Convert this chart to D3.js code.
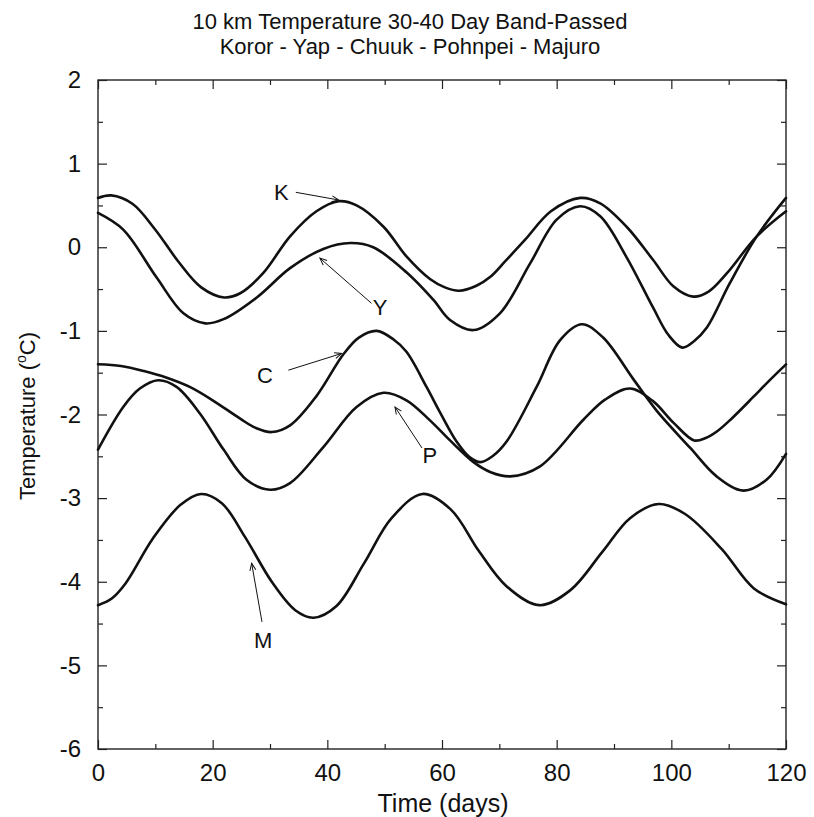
<!DOCTYPE html>
<html><head><meta charset="utf-8">
<script src="https://cdn.jsdelivr.net/npm/d3@7"></script>
<style>
body{margin:0;background:#fff}
text{font-family:"Liberation Sans",Arial,Helvetica,sans-serif;fill:#111}
</style>
</head><body>
<svg id="chart" width="814" height="817"></svg>
<script>
// ---- data ----
const titleLines = ["10 km Temperature 30-40 Day Band-Passed", "Koror - Yap - Chuuk - Pohnpei - Majuro"];
const xLabel = "Time (days)";
const xTicks = [0, 20, 40, 60, 80, 100, 120];
const yTicks = [2, 1, 0, -1, -2, -3, -4, -5, -6];

const kororDays = [0, 2.3, 6, 10, 14, 18, 22, 24.8, 28.8, 33.5, 38.1, 42, 45.1, 49.8, 53.8, 57.9, 60.5, 63, 66, 68.5, 71, 74.5, 79, 84.1, 87.6, 92.2, 96.8, 100.4, 103.8, 106.5, 109.7, 114.9, 120];
const kororTemp = [0.59, 0.62, 0.52, 0.21, -0.17, -0.48, -0.60, -0.55, -0.31, 0.13, 0.43, 0.55, 0.50, 0.245, -0.11, -0.38, -0.48, -0.52, -0.46, -0.35, -0.17, 0.09, 0.43, 0.59, 0.525, 0.245, -0.15, -0.47, -0.59, -0.53, -0.31, 0.13, 0.43];

const yapDays = [0, 4.4, 10.2, 14.9, 18.7, 21.9, 27.7, 33.5, 39.3, 44.0, 48.0, 53.8, 58.5, 61.4, 65.5, 70.1, 75.4, 80.0, 84.1, 87.6, 92.2, 96.8, 99.5, 101.9, 104, 106.2, 110.2, 114.9, 120];
const yapTemp = [0.41, 0.21, -0.36, -0.79, -0.91, -0.86, -0.60, -0.25, -0.02, 0.05, 0.00, -0.30, -0.63, -0.87, -0.99, -0.79, -0.19, 0.33, 0.49, 0.37, -0.12, -0.72, -1.05, -1.20, -1.12, -0.96, -0.43, 0.13, 0.59];

const chuukDays = [0, 4, 8, 12, 16, 20, 24.8, 27.5, 30.3, 33.5, 38.1, 42.8, 45.5, 48.6, 51.5, 53.8, 57.3, 59.7, 62.6, 64.8, 66.7, 68.8, 71.3, 76.5, 80.6, 84.4, 88.1, 93.4, 97.5, 103.3, 107.9, 112.6, 116.6, 120];
const chuukTemp = [-1.40, -1.42, -1.48, -1.56, -1.67, -1.83, -2.05, -2.16, -2.21, -2.13, -1.78, -1.28, -1.08, -1.00, -1.10, -1.25, -1.67, -1.98, -2.33, -2.51, -2.57, -2.50, -2.32, -1.67, -1.11, -0.92, -1.08, -1.58, -1.96, -2.40, -2.74, -2.91, -2.78, -2.47];

const pohnpeiDays = [0, 4.4, 7.3, 10.5, 13.7, 17.8, 21.9, 25.9, 30.0, 33.5, 39.3, 45.1, 49.8, 53.8, 57.9, 61.4, 65.5, 68.5, 71.9, 77.1, 84.7, 88.5, 92.8, 96.8, 100.4, 104, 106, 108, 110.5, 114.3, 117, 120];
const pohnpeiTemp = [-2.42, -1.91, -1.69, -1.59, -1.67, -1.99, -2.42, -2.78, -2.90, -2.82, -2.39, -1.91, -1.74, -1.83, -2.07, -2.31, -2.57, -2.69, -2.74, -2.62, -2.06, -1.82, -1.69, -1.84, -2.10, -2.31, -2.28, -2.20, -2.05, -1.79, -1.60, -1.40];

const majuroDays = [0, 2.4, 4.8, 9.6, 14.4, 18, 21.6, 25.6, 30.4, 34.4, 37.6, 41.6, 46.4, 51.2, 56.6, 61.6, 66.4, 71.2, 77, 82.4, 88, 92.8, 97.8, 102.4, 108.8, 114.4, 120];
const majuroTemp = [-4.28, -4.20, -4.02, -3.48, -3.08, -2.95, -3.06, -3.46, -4.01, -4.34, -4.43, -4.29, -3.78, -3.24, -2.95, -3.14, -3.63, -4.05, -4.28, -4.10, -3.64, -3.24, -3.07, -3.19, -3.61, -4.08, -4.27];

// annotation labels: letter, label anchor (day, temp), arrow from (day,temp) to (day,temp)
const labelNames = ["K", "Y", "C", "P", "M"];
const labelAt = [[32.0, 0.657], [49.2, -0.71], [29.1, -1.53], [57.9, -2.48], [28.8, -4.70]];
const arrowFrom = [[34.5, 0.657], [47.7, -0.67], [33.2, -1.47], [56.5, -2.40], [28.6, -4.48]];
const arrowTo = [[42.0, 0.565], [38.7, -0.13], [42.5, -1.27], [51.8, -1.91], [26.8, -3.78]];

// ---- layout ----
const plot = {left: 98, right: 786, top: 80, bottom: 749};
const svg = d3.select("#chart");
const tickFs = 24;

const x = d3.scaleLinear().domain([0, 120]).range([plot.left, plot.right]);
const y = d3.scaleLinear().domain([-6, 2]).range([plot.bottom, plot.top]);

// title
svg.append("g").selectAll("text").data(titleLines).join("text")
  .attr("x", 410).attr("y", (d, i) => 29 + i * 25)
  .attr("text-anchor", "middle").attr("font-size", 22).text(d => d);

// axes with inward ticks
const minorX = d3.range(0, 121, 10).filter(v => v % 20 !== 0);
const minorY = d3.range(-5.5, 2, 1);
const fmt = d => String(d);

function styleAxis(g) {
  g.select(".domain").remove();
  g.selectAll(".tick line").attr("stroke", "#222").attr("stroke-width", 1.2);
  g.selectAll("text").attr("font-size", tickFs).attr("fill", "#111")
    .style("font-family", '"Liberation Sans",Arial,sans-serif');
}

svg.append("g").attr("transform", `translate(0,${plot.bottom})`)
  .call(d3.axisBottom(x).tickValues(xTicks).tickFormat(fmt).tickSizeInner(-9).tickSizeOuter(0).tickPadding(15))
  .call(styleAxis);
svg.append("g").attr("transform", `translate(0,${plot.bottom})`)
  .call(d3.axisBottom(x).tickValues(minorX).tickFormat("").tickSizeInner(-5).tickSizeOuter(0))
  .call(styleAxis);
svg.append("g").attr("transform", `translate(0,${plot.top})`)
  .call(d3.axisTop(x).tickValues(xTicks).tickFormat("").tickSizeInner(-9).tickSizeOuter(0))
  .call(styleAxis);
svg.append("g").attr("transform", `translate(0,${plot.top})`)
  .call(d3.axisTop(x).tickValues(minorX).tickFormat("").tickSizeInner(-5).tickSizeOuter(0))
  .call(styleAxis);

svg.append("g").attr("transform", `translate(${plot.left},0)`)
  .call(d3.axisLeft(y).tickValues(yTicks).tickFormat(fmt).tickSizeInner(-9).tickSizeOuter(0).tickPadding(17))
  .call(styleAxis);
svg.append("g").attr("transform", `translate(${plot.left},0)`)
  .call(d3.axisLeft(y).tickValues(minorY).tickFormat("").tickSizeInner(-5).tickSizeOuter(0))
  .call(styleAxis);
svg.append("g").attr("transform", `translate(${plot.right},0)`)
  .call(d3.axisRight(y).tickValues(yTicks).tickFormat("").tickSizeInner(-9).tickSizeOuter(0))
  .call(styleAxis);
svg.append("g").attr("transform", `translate(${plot.right},0)`)
  .call(d3.axisRight(y).tickValues(minorY).tickFormat("").tickSizeInner(-5).tickSizeOuter(0))
  .call(styleAxis);

// frame
svg.append("rect").attr("x", plot.left).attr("y", plot.top)
  .attr("width", plot.right - plot.left).attr("height", plot.bottom - plot.top)
  .attr("fill", "none").attr("stroke", "#222").attr("stroke-width", 1.4);

// axis titles
svg.append("text").attr("x", 443).attr("y", 812)
  .attr("text-anchor", "middle").attr("font-size", 25).text(xLabel);
const yl = svg.append("text").attr("transform", `translate(35,416) rotate(-90)`)
  .attr("text-anchor", "middle").attr("font-size", 22);
yl.append("tspan").text("Temperature (");
yl.append("tspan").attr("font-size", 14).attr("dy", -9).text("o");
yl.append("tspan").attr("dy", 9).text("C)");

// series
const series = [
  [kororDays, kororTemp], [yapDays, yapTemp], [chuukDays, chuukTemp],
  [pohnpeiDays, pohnpeiTemp], [majuroDays, majuroTemp]
];
const line = d3.line().x(d => x(d[0])).y(d => y(d[1])).curve(d3.curveCatmullRom.alpha(0.5));
svg.append("g").selectAll("path").data(series).join("path")
  .attr("d", s => line(s[0].map((d, i) => [d, s[1][i]])))
  .attr("fill", "none").attr("stroke", "#111").attr("stroke-width", 2.6)
  .attr("stroke-linejoin", "round").attr("stroke-linecap", "round");

// arrow marker
svg.append("defs").append("marker").attr("id", "arr")
  .attr("viewBox", "-8 -4 9 8").attr("refX", 0).attr("refY", 0)
  .attr("markerWidth", 9).attr("markerHeight", 8).attr("markerUnits", "userSpaceOnUse")
  .attr("orient", "auto")
  .append("path").attr("d", "M-7,-3 L0,0 L-7,3").attr("fill", "none").attr("stroke", "#111").attr("stroke-width", 1);

const ann = svg.append("g");
labelNames.forEach((n, i) => {
  ann.append("line")
    .attr("x1", x(arrowFrom[i][0])).attr("y1", y(arrowFrom[i][1]))
    .attr("x2", x(arrowTo[i][0])).attr("y2", y(arrowTo[i][1]))
    .attr("stroke", "#111").attr("stroke-width", 1).attr("marker-end", "url(#arr)");
  ann.append("text").attr("x", x(labelAt[i][0])).attr("y", y(labelAt[i][1]))
    .attr("dy", "0.36em").attr("text-anchor", "middle").attr("font-size", 22).text(n);
});
</script>
</body></html>
